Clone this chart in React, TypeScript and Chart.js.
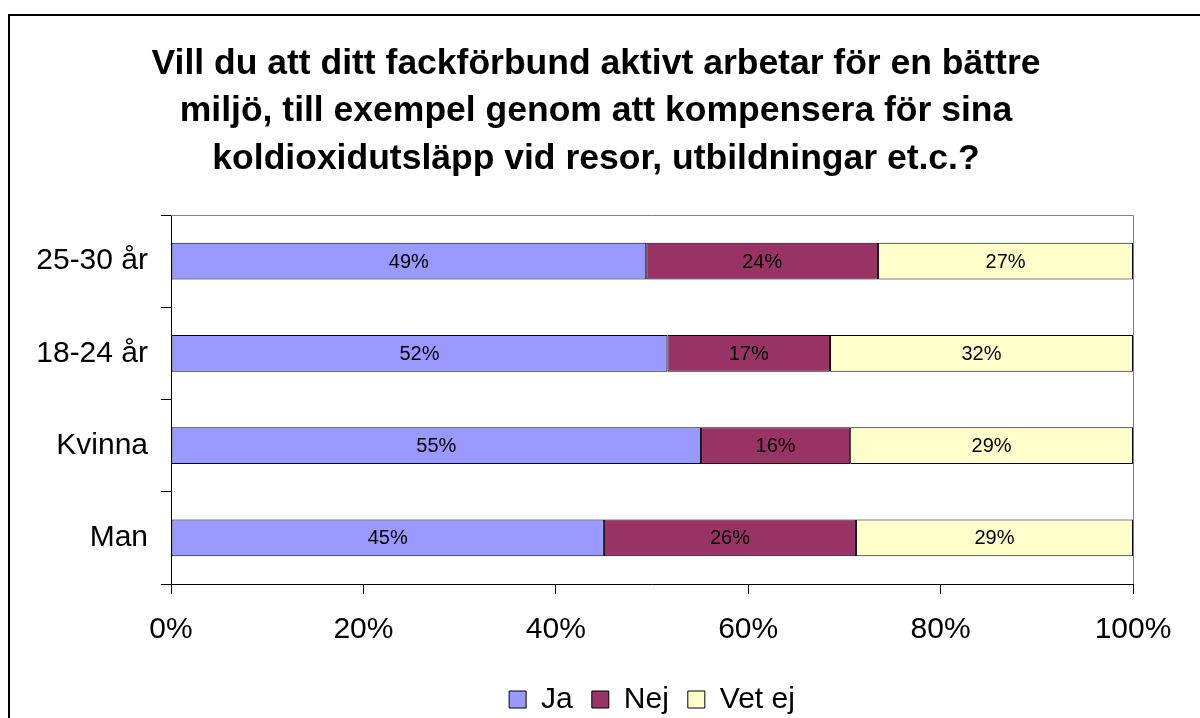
import React, { useEffect, useRef } from "react";
import { Chart, registerables } from "chart.js";

Chart.register(...registerables);

const categories = ["25-30 år", "18-24 år", "Kvinna", "Man"];
const seriesNames = ["Ja", "Nej", "Vet ej"];
const jaValues = [49.4, 51.6, 55.1, 45.0];
const nejValues = [24.1, 16.9, 15.5, 26.2];
const vetEjValues = [26.5, 31.5, 29.4, 28.8];
const xTicks = [0, 20, 40, 60, 80, 100];
const titleLines = [
  "Vill du att ditt fackförbund aktivt arbetar för en bättre",
  "miljö, till exempel genom att kompensera för sina",
  "koldioxidutsläpp vid resor, utbildningar et.c.?",
];

const FONT = '"Liberation Sans", Arial, Helvetica, sans-serif';

const framePlugin = {
  id: "frame",
  beforeDraw(chart: any) {
    const ctx = chart.ctx;
    ctx.save();
    ctx.fillStyle = "#ffffff";
    ctx.fillRect(0, 0, chart.width, chart.height);
    ctx.fillStyle = "#000000";
    ctx.fillRect(8, 14, 2, chart.height - 14);
    ctx.fillRect(8, 14, chart.width - 8, 2);
    ctx.restore();
  },
};

const plotBorderPlugin = {
  id: "plotBorder",
  beforeDatasetsDraw(chart: any) {
    const { ctx, chartArea } = chart;
    ctx.save();
    ctx.strokeStyle = "#808080";
    ctx.lineWidth = 1;
    ctx.beginPath();
    ctx.moveTo(chartArea.left, Math.round(chartArea.top) + 0.5);
    ctx.lineTo(Math.round(chartArea.right) + 0.5, Math.round(chartArea.top) + 0.5);
    ctx.lineTo(Math.round(chartArea.right) + 0.5, chartArea.bottom);
    ctx.stroke();
    ctx.restore();
  },
};

const dataLabelPlugin = {
  id: "dataLabels",
  afterDatasetsDraw(chart: any) {
    const ctx = chart.ctx;
    ctx.save();
    ctx.font = `20px ${FONT}`;
    ctx.fillStyle = "#000000";
    ctx.textAlign = "center";
    ctx.textBaseline = "middle";
    chart.data.datasets.forEach((ds: any, di: number) => {
      const meta = chart.getDatasetMeta(di);
      meta.data.forEach((el: any, i: number) => {
        const { x, base, y } = el.getProps(["x", "base", "y"], true);
        const v = ds.data[i];
        ctx.fillText(Math.round(v) + "%", (x + base) / 2, y + 1);
      });
    });
    ctx.restore();
  },
};

export default function App() {
  const canvasRef = useRef<HTMLCanvasElement | null>(null);

  useEffect(() => {
    if (!canvasRef.current) return;
    Chart.defaults.font.family = FONT;
    Chart.defaults.color = "#000000";
    const colors = ["#9999FF", "#993366", "#FFFFCC"];
    const values = [jaValues, nejValues, vetEjValues];
    const chart = new Chart(canvasRef.current, {
      type: "bar",
      data: {
        labels: categories,
        datasets: seriesNames.map((name, i) => ({
          label: name,
          data: values[i],
          backgroundColor: colors[i],
          borderColor: "#000000",
          borderWidth: 1,
          borderSkipped: false,
          barPercentage: 0.4,
          categoryPercentage: 1,
          yAxisID: "y",
          xAxisID: "x",
        })),
      },
      options: {
        indexAxis: "y",
        animation: false,
        responsive: true,
        maintainAspectRatio: false,
        layout: { padding: { left: 20, right: 28, top: 0, bottom: 0 } },
        plugins: {
          title: {
            display: true,
            text: titleLines,
            color: "#000000",
            font: { size: 35.5, weight: "bold", family: FONT, lineHeight: 47.5 / 35.5 },
            padding: { top: 40, bottom: 32.5 },
          },
          legend: {
            display: true,
            position: "bottom",
            fullSize: false,
            maxHeight: 52.5,
            labels: {
              boxWidth: 17,
              boxHeight: 17,
              padding: 19,
              color: "#000000",
              font: { size: 30, family: FONT },
            },
          },
          tooltip: { enabled: false },
        },
        scales: {
          x: {
            type: "linear",
            stacked: true,
            min: 0,
            max: 100,
            afterBuildTicks: (scale: any) => {
              scale.ticks = xTicks.map((v) => ({ value: v }));
            },
            ticks: {
              callback: (v: any) => v + "%",
              font: { size: 30, family: FONT },
              color: "#000000",
              padding: 18,
              maxRotation: 0,
            },
            grid: {
              drawOnChartArea: false,
              drawTicks: true,
              tickLength: 10,
              color: "#000000",
            },
            border: { color: "#000000", width: 1 },
            afterFit: (scale: any) => {
              scale.height = 81.5;
            },
          },
          y: {
            type: "category",
            stacked: true,
            position: "left",
            ticks: {
              font: { size: 30, family: FONT },
              color: "#000000",
              padding: 13,
            },
            grid: {
              offset: true,
              drawOnChartArea: false,
              drawTicks: true,
              tickLength: 10,
              color: "#000000",
            },
            border: { color: "#000000", width: 1 },
            afterFit: (scale: any) => {
              scale.width = 151;
            },
          },
          ySpacer: {
            type: "linear",
            position: "right",
            display: true,
            ticks: { display: false },
            grid: { display: false, drawTicks: false },
            border: { display: false },
            afterFit: (scale: any) => {
              scale.width = 39;
            },
          },
        },
      },
      plugins: [framePlugin, plotBorderPlugin, dataLabelPlugin],
    } as any);
    return () => chart.destroy();
  }, []);

  return (
    <div style={{ position: "fixed", left: 0, top: 0, width: "1200px", height: "718px", background: "#fff" }}>
      <canvas ref={canvasRef} style={{ width: "1200px", height: "718px" }} />
    </div>
  );
}
